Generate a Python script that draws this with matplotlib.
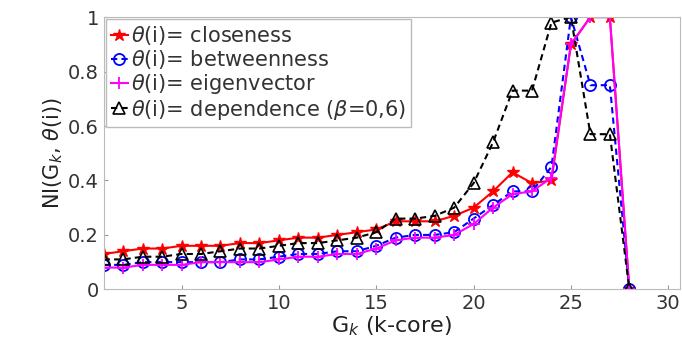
import matplotlib.pyplot as plt
import numpy as np

plt.rcParams["font.family"] = ["DejaVu Sans"]
plt.rcParams["mathtext.fontset"] = "dejavusans"

# k-core index
k_core = np.arange(1, 29)

closeness = [0.13, 0.14, 0.15, 0.15, 0.16, 0.16, 0.16, 0.17, 0.17, 0.18,
             0.19, 0.19, 0.20, 0.21, 0.22, 0.25, 0.25, 0.25, 0.27, 0.30,
             0.36, 0.43, 0.39, 0.40, 0.90, 1.00, 1.00, 0.00]
betweenness = [0.09, 0.09, 0.10, 0.10, 0.10, 0.10, 0.10, 0.11, 0.11, 0.12,
               0.13, 0.13, 0.14, 0.14, 0.16, 0.19, 0.20, 0.20, 0.21, 0.26,
               0.31, 0.36, 0.36, 0.45, 1.00, 0.75, 0.75, 0.00]
eigenvector = [0.08, 0.08, 0.09, 0.09, 0.09, 0.10, 0.10, 0.10, 0.10, 0.11,
               0.12, 0.12, 0.13, 0.13, 0.15, 0.18, 0.19, 0.19, 0.20, 0.24,
               0.30, 0.35, 0.36, 0.41, 0.90, 1.00, 1.00, 0.00]
dependence = [0.11, 0.11, 0.12, 0.12, 0.13, 0.13, 0.14, 0.15, 0.15, 0.16,
              0.17, 0.17, 0.18, 0.19, 0.21, 0.26, 0.26, 0.27, 0.30, 0.39,
              0.54, 0.73, 0.73, 0.98, 1.00, 0.57, 0.57, 0.00]

labels = [
    r"$\theta$(i)= closeness",
    r"$\theta$(i)= betweenness",
    r"$\theta$(i)= eigenvector",
    r"$\theta$(i)= dependence ($\beta$=0,6)",
]

fig = plt.figure(figsize=(6.82, 3.64), dpi=100)
ax = fig.add_axes([0.152, 0.205, 0.845, 0.748])

ax.plot(k_core, closeness, "-", color="red", marker="*", markersize=9,
        linewidth=1.5, label=labels[0])
ax.plot(k_core, betweenness, "--", dashes=(3, 2), color="blue", marker="o",
        markersize=8, markerfacecolor="none", markeredgewidth=1.3,
        linewidth=1.5, label=labels[1])
ax.plot(k_core, eigenvector, "-", color="magenta", marker="+", markersize=9,
        markeredgewidth=1.3, linewidth=1.5, label=labels[2])
ax.plot(k_core, dependence, "--", dashes=(3, 2), color="black", marker="^",
        markersize=8, markerfacecolor="none", markeredgewidth=1.2,
        linewidth=1.5, label=labels[3])

ax.set_xlim(1, 30.6)
ax.set_ylim(0, 1)
ax.set_xticks([5, 10, 15, 20, 25, 30])
ax.set_yticks([0, 0.2, 0.4, 0.6, 0.8, 1])
ax.set_yticklabels(["0", "0.2", "0.4", "0.6", "0.8", "1"])
ax.tick_params(labelsize=14, direction="in", length=3, color="#999999",
               labelcolor="#333333")
for s in ax.spines.values():
    s.set_color("#bbbbbb")

ax.set_xlabel(r"G$_k$ (k-core)", fontsize=16, labelpad=1, color="#222222")
ax.set_ylabel(r"NI(G$_k$, $\theta$(i))", fontsize=15, labelpad=2,
              color="#222222")

leg = ax.legend(loc="upper left", fontsize=15, handlelength=0.8,
                handletextpad=0.15, borderpad=0.25, labelspacing=0.05,
                borderaxespad=0.1, fancybox=False, edgecolor="#bbbbbb",
                framealpha=1)
for t in leg.get_texts():
    t.set_color("#333333")

fig.savefig("out.png", dpi=100)
